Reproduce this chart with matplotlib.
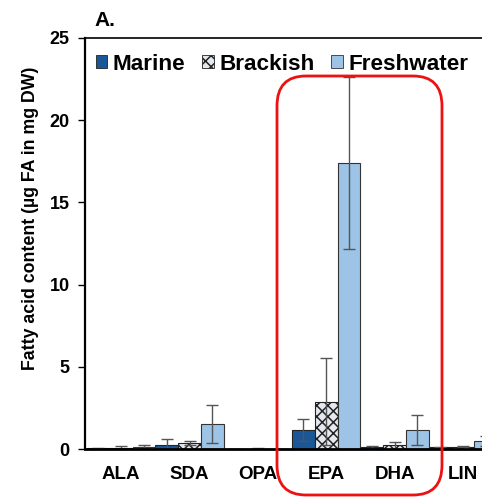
import numpy as np
import matplotlib.pyplot as plt
from matplotlib.patches import FancyBboxPatch, Patch

plt.rcParams['font.family'] = ['Liberation Sans', 'DejaVu Sans']
plt.rcParams['font.weight'] = 'bold'
plt.rcParams['hatch.linewidth'] = 1.1

acids = ["ALA", "SDA", "OPA", "EPA", "DHA", "LIN"]
marine = [0.05, 0.25, 0.02, 1.16, 0.10, 0.10]
marine_err = [0.03, 0.35, 0.01, 0.65, 0.08, 0.05]
brackish = [0.08, 0.38, 0.03, 2.88, 0.22, 0.15]
brackish_err = [0.08, 0.12, 0.01, 2.65, 0.22, 0.05]
fresh = [0.15, 1.52, 0.02, 17.4, 1.16, 0.50]
fresh_err = [0.10, 1.16, 0.01, 5.25, 0.92, 0.30]

W, H = 482, 498
fig = plt.figure(figsize=(W / 100, H / 100), dpi=100)
# axes spills past the right edge, like the cropped original
ax = fig.add_axes([85 / W, (H - 449) / H, 412 / W, 411 / H])

x = np.arange(len(acids))
bw = 1 / 3
ekw = dict(ecolor='#555555', elinewidth=1.0, capsize=4, capthick=1.0)
ax.bar(x - bw, marine, bw, yerr=marine_err, color='#1A5798',
       edgecolor='#222222', linewidth=0.8, error_kw=ekw, label='Marine')
ax.bar(x, brackish, bw, yerr=brackish_err, color='#e4e9f0', hatch='xxx',
       edgecolor='#222222', linewidth=0.8, error_kw=ekw, label='Brackish')
ax.bar(x + bw, fresh, bw, yerr=fresh_err, color='#9DC3E6',
       edgecolor='#333333', linewidth=0.8, error_kw=ekw, label='Freshwater')

ax.set_xlim(-0.53, 5.5)
ax.set_ylim(0, 25)
ax.set_yticks([0, 5, 10, 15, 20, 25])
ax.set_xticks(x)
ax.set_xticklabels(acids, fontsize=13.5, fontweight='bold')
ax.tick_params(axis='x', length=0, pad=12)
ax.tick_params(axis='y', labelsize=13, length=5, width=1, direction='out', pad=6)
ax.spines['right'].set_visible(False)
ax.spines['left'].set_linewidth(1.6)
ax.spines['bottom'].set_linewidth(2.0)
ax.spines['top'].set_linewidth(1.2)

fig.text(31 / W, 1 - 218 / H, 'Fatty acid content (µg FA in mg DW)', rotation=90,
         ha='center', va='center', fontsize=12.8, fontweight='bold')
fig.text(94 / W, 1 - 20 / H, 'A.', ha='left', va='center', fontsize=15, fontweight='bold')

handles = [Patch(facecolor='#1A5798', edgecolor='#222222', linewidth=0.6),
           Patch(facecolor='#e4e9f0', edgecolor='#222222', hatch='xxx', linewidth=0.6),
           Patch(facecolor='#9DC3E6', edgecolor='#333333', linewidth=0.6)]
leg = fig.legend(handles, ['Marine', 'Brackish', 'Freshwater'], ncol=3,
                 loc='center left', bbox_to_anchor=(96 / W, 1 - 64 / H), frameon=False,
                 fontsize=16.2, handlelength=0.5, handleheight=0.5,
                 handletextpad=0.25, columnspacing=0.75, borderaxespad=0, borderpad=0)

box = FancyBboxPatch((277 / W, 1 - 495 / H), 165 / W, 419 / H,
                     boxstyle='round,pad=0,rounding_size=0.06',
                     transform=fig.transFigure, fill=False, edgecolor='#ee1111',
                     linewidth=2.0, clip_on=False)
fig.patches.append(box)

fig.savefig('out.png', dpi=100)
